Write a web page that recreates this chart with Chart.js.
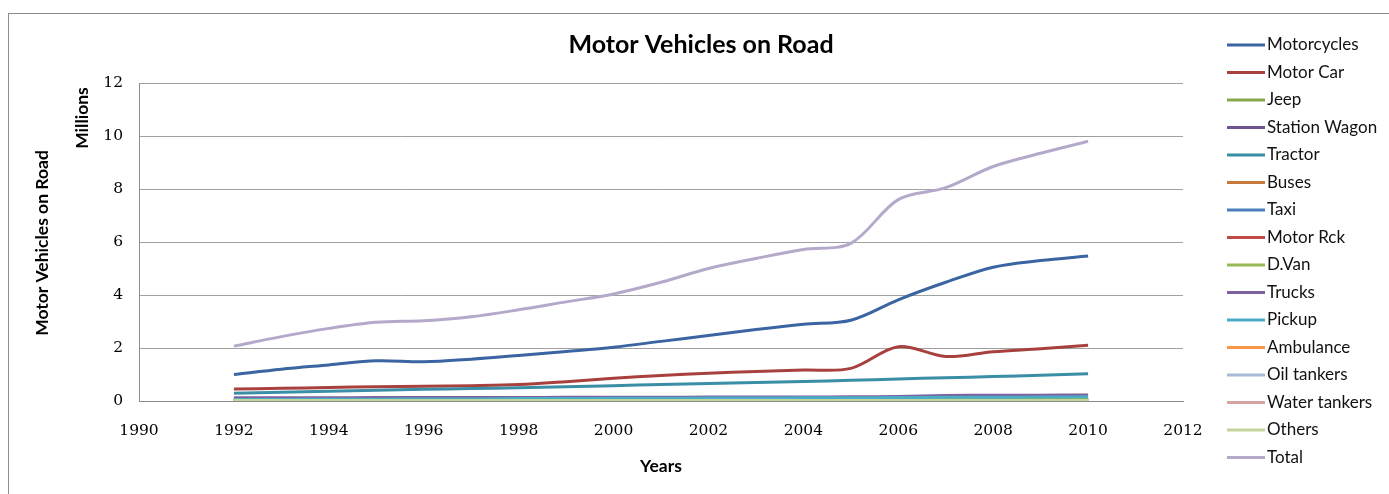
<!DOCTYPE html>
<html>
<head>
<meta charset="utf-8">
<script src="https://cdn.jsdelivr.net/npm/chart.js@4.4.1/dist/chart.umd.min.js"></script>
<style>
  html, body { margin: 0; padding: 0; background: #ffffff; }
  #wrap { width: 1389px; height: 494px; position: relative; }
</style>
</head>
<body>
<div id="wrap"><canvas id="c" width="1389" height="494"></canvas></div>
<script>
// ---- data (millions) ----
const years = [1992,1993,1994,1995,1996,1997,1998,1999,2000,2001,2002,2003,2004,2005,2006,2007,2008,2009,2010];
const seriesNames = ["Motorcycles","Motor Car","Jeep","Station Wagon","Tractor","Buses","Taxi","Motor Rck","D.Van","Trucks","Pickup","Ambulance","Oil tankers","Water tankers","Others","Total"];
const seriesColors = ["#3A65A2","#A8413E","#89A84E","#6F5690","#3A8EA6","#C67A3C","#4A7EBB","#BE4B48","#98B954","#7D60A0","#4BACC6","#F79646","#A8BAD6","#D5A3A2","#C2D69C","#B5A9CB"];

const motorcycles  = [1.00,1.20,1.36,1.52,1.48,1.58,1.72,1.87,2.03,2.25,2.47,2.70,2.90,3.05,3.82,4.48,5.05,5.30,5.47];
const motorCar     = [0.45,0.48,0.51,0.54,0.56,0.58,0.62,0.73,0.86,0.96,1.05,1.11,1.17,1.23,2.05,1.68,1.86,1.97,2.10];
const jeep         = [0.05,0.05,0.05,0.05,0.05,0.05,0.06,0.06,0.06,0.06,0.06,0.07,0.07,0.07,0.07,0.08,0.08,0.08,0.08];
const stationWagon = [0.02,0.02,0.02,0.02,0.02,0.02,0.02,0.02,0.02,0.02,0.02,0.02,0.02,0.02,0.02,0.02,0.02,0.02,0.02];
const tractor      = [0.29,0.33,0.37,0.41,0.44,0.47,0.50,0.54,0.58,0.62,0.66,0.70,0.74,0.78,0.83,0.88,0.92,0.97,1.03];
const buses        = [0.04,0.04,0.04,0.04,0.04,0.04,0.05,0.05,0.05,0.05,0.05,0.05,0.05,0.05,0.05,0.06,0.06,0.06,0.06];
const taxi         = [0.01,0.01,0.01,0.01,0.01,0.01,0.01,0.01,0.01,0.01,0.01,0.01,0.01,0.01,0.01,0.01,0.01,0.01,0.01];
const motorRck     = [0.02,0.02,0.02,0.02,0.02,0.02,0.02,0.03,0.03,0.03,0.03,0.03,0.03,0.04,0.04,0.04,0.04,0.05,0.05];
const dVan         = [0.04,0.04,0.04,0.05,0.05,0.05,0.05,0.05,0.06,0.06,0.06,0.06,0.07,0.07,0.08,0.08,0.09,0.09,0.10];
const trucks       = [0.12,0.12,0.12,0.13,0.13,0.13,0.13,0.14,0.14,0.14,0.15,0.15,0.15,0.16,0.17,0.21,0.22,0.22,0.23];
const pickup       = [0.06,0.06,0.07,0.07,0.08,0.08,0.09,0.09,0.10,0.10,0.11,0.11,0.12,0.12,0.13,0.14,0.14,0.15,0.16];
const ambulance    = [0.003,0.003,0.003,0.003,0.003,0.003,0.003,0.003,0.003,0.003,0.003,0.003,0.003,0.003,0.003,0.003,0.003,0.003,0.003];
const oilTankers   = [0.005,0.005,0.005,0.005,0.005,0.005,0.005,0.005,0.005,0.005,0.005,0.005,0.005,0.005,0.005,0.005,0.005,0.005,0.005];
const waterTankers = [0.003,0.003,0.003,0.003,0.003,0.003,0.003,0.003,0.003,0.003,0.003,0.003,0.003,0.003,0.003,0.003,0.003,0.003,0.003];
const others       = [0.02,0.02,0.02,0.02,0.02,0.02,0.02,0.02,0.02,0.02,0.02,0.02,0.02,0.02,0.02,0.02,0.02,0.02,0.02];
const total        = [2.07,2.43,2.74,2.97,3.03,3.18,3.44,3.74,4.04,4.48,5.00,5.38,5.72,5.95,7.60,8.05,8.85,9.35,9.80];

const xTicks = [1990,1992,1994,1996,1998,2000,2002,2004,2006,2008,2010,2012];
const yTicks = [0,2,4,6,8,10,12];

const titleText = "Motor Vehicles on Road";
const xTitle = "Years";
const yTitle = "Motor Vehicles on Road";
const yUnit = "Millions";

const seriesValues = [motorcycles,motorCar,jeep,stationWagon,tractor,buses,taxi,motorRck,dVan,trucks,pickup,ambulance,oilTankers,waterTankers,others,total];

const datasets = seriesNames.map((name, i) => ({
  label: name,
  data: years.map((yr, j) => ({ x: yr, y: seriesValues[i][j] })),
  borderColor: seriesColors[i],
  backgroundColor: seriesColors[i],
  borderWidth: 3,
  pointRadius: 0,
  pointHoverRadius: 0,
  tension: 0.33,
  fill: false,
  order: seriesNames.length - i
}));

const SANS = "Lato, 'Open Sans', 'DejaVu Sans', sans-serif";
const SERIF = "'DejaVu Serif', 'Liberation Serif', serif";

const decor = {
  id: 'decor',
  beforeDraw(chart) {
    const ctx = chart.ctx;
    ctx.save();
    ctx.fillStyle = '#ffffff';
    ctx.fillRect(0, 0, chart.width, chart.height);
    ctx.strokeStyle = '#8c8c8c';
    ctx.lineWidth = 1;
    ctx.strokeRect(8.5, 13.5, chart.width + 10, chart.height + 10);
    ctx.restore();
  },
  afterDraw(chart) {
    const ctx = chart.ctx;
    const area = chart.chartArea;
    ctx.save();
    ctx.fillStyle = '#000000';
    // title
    ctx.font = "bold 25px " + SANS;
    ctx.textAlign = 'center';
    ctx.textBaseline = 'middle';
    ctx.fillText(titleText, 701, 45);
    // x title
    ctx.font = "bold 17.5px " + SANS;
    ctx.fillText(xTitle, (area.left + area.right) / 2, 466);
    // y title
    ctx.save();
    ctx.translate(42, 243);
    ctx.rotate(-Math.PI / 2);
    ctx.fillText(yTitle, 0, 0);
    ctx.restore();
    ctx.save();
    ctx.translate(82, 118);
    ctx.rotate(-Math.PI / 2);
    ctx.fillText(yUnit, 0, 0);
    ctx.restore();
    // legend
    ctx.font = "17px " + SANS;
    ctx.textAlign = 'left';
    chart.data.datasets.forEach((ds, i) => {
      const y = 45 + i * 27.5;
      ctx.strokeStyle = ds.borderColor;
      ctx.lineWidth = 3;
      ctx.beginPath();
      ctx.moveTo(1227, y);
      ctx.lineTo(1265, y);
      ctx.stroke();
      ctx.fillStyle = '#111111';
      ctx.fillText(ds.label, 1267, y);
    });
    ctx.restore();
  }
};

new Chart(document.getElementById('c'), {
  type: 'line',
  data: { datasets },
  options: {
    responsive: false,
    animation: false,
    events: [],
    layout: { padding: { left: 0, top: 83, right: 206, bottom: 0 } },
    plugins: {
      legend: { display: false },
      title: { display: false },
      tooltip: { enabled: false }
    },
    scales: {
      x: {
        type: 'linear',
        min: xTicks[0],
        max: xTicks[xTicks.length - 1],
        afterBuildTicks: (s) => { s.ticks = xTicks.map(v => ({ value: v })); },
        afterFit: (s) => { s.height = 93; },
        grid: { display: false, drawTicks: false },
        border: { display: true, color: '#8c8c8c', width: 1 },
        ticks: {
          padding: 21,
          color: '#000000',
          font: { family: SERIF, size: 15.5 },
          callback: (v) => String(v),
          maxRotation: 0,
          autoSkip: false
        }
      },
      y: {
        type: 'linear',
        min: yTicks[0],
        max: yTicks[yTicks.length - 1],
        afterBuildTicks: (s) => { s.ticks = yTicks.map(v => ({ value: v })); },
        afterFit: (s) => { s.width = 139; },
        grid: { color: '#a0a0a0', lineWidth: 1, drawTicks: false },
        border: { display: true, color: '#8c8c8c', width: 1 },
        ticks: {
          padding: 16,
          color: '#000000',
          font: { family: SERIF, size: 15.5 },
          callback: (v) => String(v)
        }
      }
    }
  },
  plugins: [decor]
});
</script>
</body>
</html>
